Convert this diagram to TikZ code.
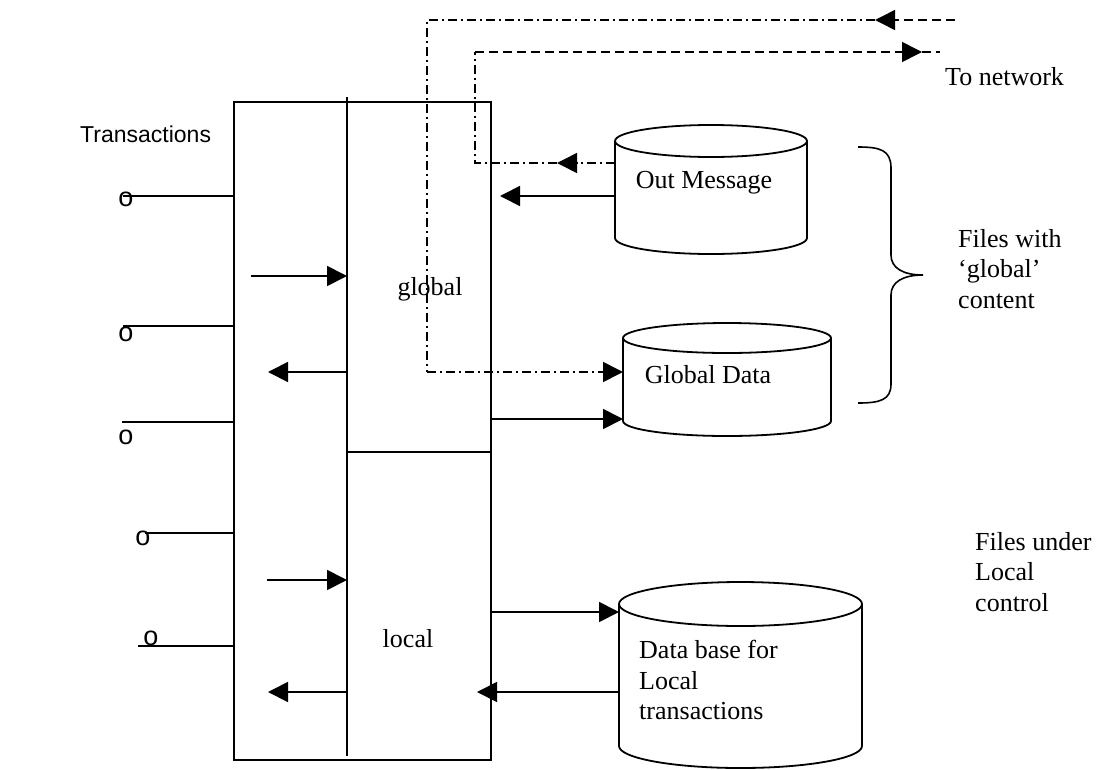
\documentclass[tikz,border=0pt]{standalone}
\usepackage{fontspec}
\setmainfont{Liberation Serif}
\newfontfamily\arialfont{Liberation Sans}
\usetikzlibrary{arrows.meta,fit}

\tikzset{
  wire/.style={line width=1.8pt},
  flow/.style={wire,->},
  netline/.style={line width=1.6pt,dash pattern=on 9pt off 5pt},
  msgline/.style={line width=1.6pt,dash pattern=on 9pt off 4pt on 2pt off 4pt},
  lbl/.style={font=\fontsize{26}{30.5}\selectfont,align=left,inner sep=0pt},
  tick/.style={font=\arialfont\fontsize{27}{27}\selectfont,inner sep=0pt},
  body/.style={inner sep=0pt,outer sep=0pt},
}

% cylinder: name, left, right, upper y, lower y, y radius
\newcommand{\drum}[6]{%
  \node[body,fit={(#2,#4) (#3,#5)}] (#1) {};
  \draw[wire] (#1.north west) -- (#1.south west)
    arc[start angle=180,end angle=0,x radius={(#3-#2)/2},y radius=#6]
    -- (#1.north east);
  \draw[wire,fill=white] (#1.north) ellipse[x radius={(#3-#2)/2},y radius=#6];
}

\begin{document}
\begin{tikzpicture}[x=1pt,y=-1pt,>={Triangle[length=20pt,width=20pt]}]
\useasboundingbox (0,0) rectangle (1116,769);

% the transaction processor
\node[body,draw,wire,fit={(234,102) (491,760)}] (sys) {};
\node[body,fit={(347,102) (491,452)}] (glob) {};
\node[body,fit={(347,452) (491,760)}] (loc) {};
\draw[wire] ([yshift=5pt]glob.north west) -- ([yshift=4pt]loc.south west);
\draw[wire] (glob.south west) -- (glob.south east);
\node[lbl,anchor=base] (globtxt) at (430,295) {global};
\node[lbl,anchor=base] (loctxt) at (408,647) {local};

\node[font=\arialfont\fontsize{23}{23}\selectfont,inner sep=0pt,anchor=base west] (trans) at (80,142) {Transactions};

% incoming transactions
\foreach \ox/\oy/\lx/\ly [count=\i] in {126/199/123/196, 126/334/123/326, 126/437/122/422, 143/538/145/533, 151/638/138/646}{
  \node[tick] (o\i) at (\ox,\oy) {o};
  \coordinate (t\i) at (\lx,\ly);
  \draw[wire] (t\i) -- (sys.west |- t\i);
}

% inner arrows
\coordinate (gin) at (251,276);
\coordinate (gout) at (268,372);
\coordinate (lin) at (267,580);
\coordinate (lout) at (268,692);
\draw[flow] (gin) -- (glob.west |- gin);
\draw[flow] (glob.west |- gout) -- (gout);
\draw[flow] (lin) -- (loc.west |- lin);
\draw[flow] (loc.west |- lout) -- (lout);

% files
\drum{om}{615}{807}{141}{238}{16}
\drum{gd}{623}{831}{338}{421}{15}
\drum{db}{619}{862}{604}{746}{22}
\node[lbl,anchor=base] (omtxt) at (704,188) {Out Message};
\node[lbl,anchor=base] (gdtxt) at (708,383) {Global Data};
\node[lbl,anchor=north west] (dbtxt) at (639,640) {Data base for\\Local\\transactions};

\draw[flow,shorten >=9pt] (om.west |- 0,196) -- (sys.east |- 0,196);
\draw[flow] (sys.east |- 0,419) -- (gd.west |- 0,419);
\draw[flow] (sys.east |- 0,612) -- (db.west |- 0,612);
\draw[flow,shorten >=-14pt] (db.west |- 0,692) -- (sys.east |- 0,692);

% network traffic
\coordinate (netin) at (955,20);
\coordinate (netout) at (940,52);
\coordinate (inmid) at (875,20);
\coordinate (inbend) at (427,20);
\coordinate (outmid) at (557,163);
\coordinate (outbend) at (475,163);
\coordinate (outtip) at (922,52);
\draw[netline,->] (netin) -- (inmid);
\draw[msgline] (inmid) -- (inbend) -- (inbend |- 0,372);
\draw[msgline,->] (inbend |- 0,372) -- (gd.west |- 0,372);
\draw[msgline,->] (om.west |- outmid) -- (outmid);
\draw[msgline] (outmid) -- (outbend) -- (outbend |- outtip);
\draw[netline,->] (outbend |- outtip) -- (outtip);
\draw[netline] (outtip) -- (netout);
\node[lbl,anchor=base west] (nettxt) at (945,85) {To network};

% groups of files
\draw[wire,line width=1.6pt] (858,147) .. controls (880,147) and (891,150) .. (891,168)
  -- (891,255) .. controls (891,268) and (903,275) .. (923,275)
  .. controls (903,275) and (891,282) .. (891,295)
  -- (891,384) .. controls (891,400) and (880,403) .. (858,403);
\node[lbl,anchor=north west] (globfiles) at (958,229) {Files with\\`global'\\content};
\node[lbl,anchor=north west] (locfiles) at (975,532) {Files under\\Local\\control};
\end{tikzpicture}
\end{document}
